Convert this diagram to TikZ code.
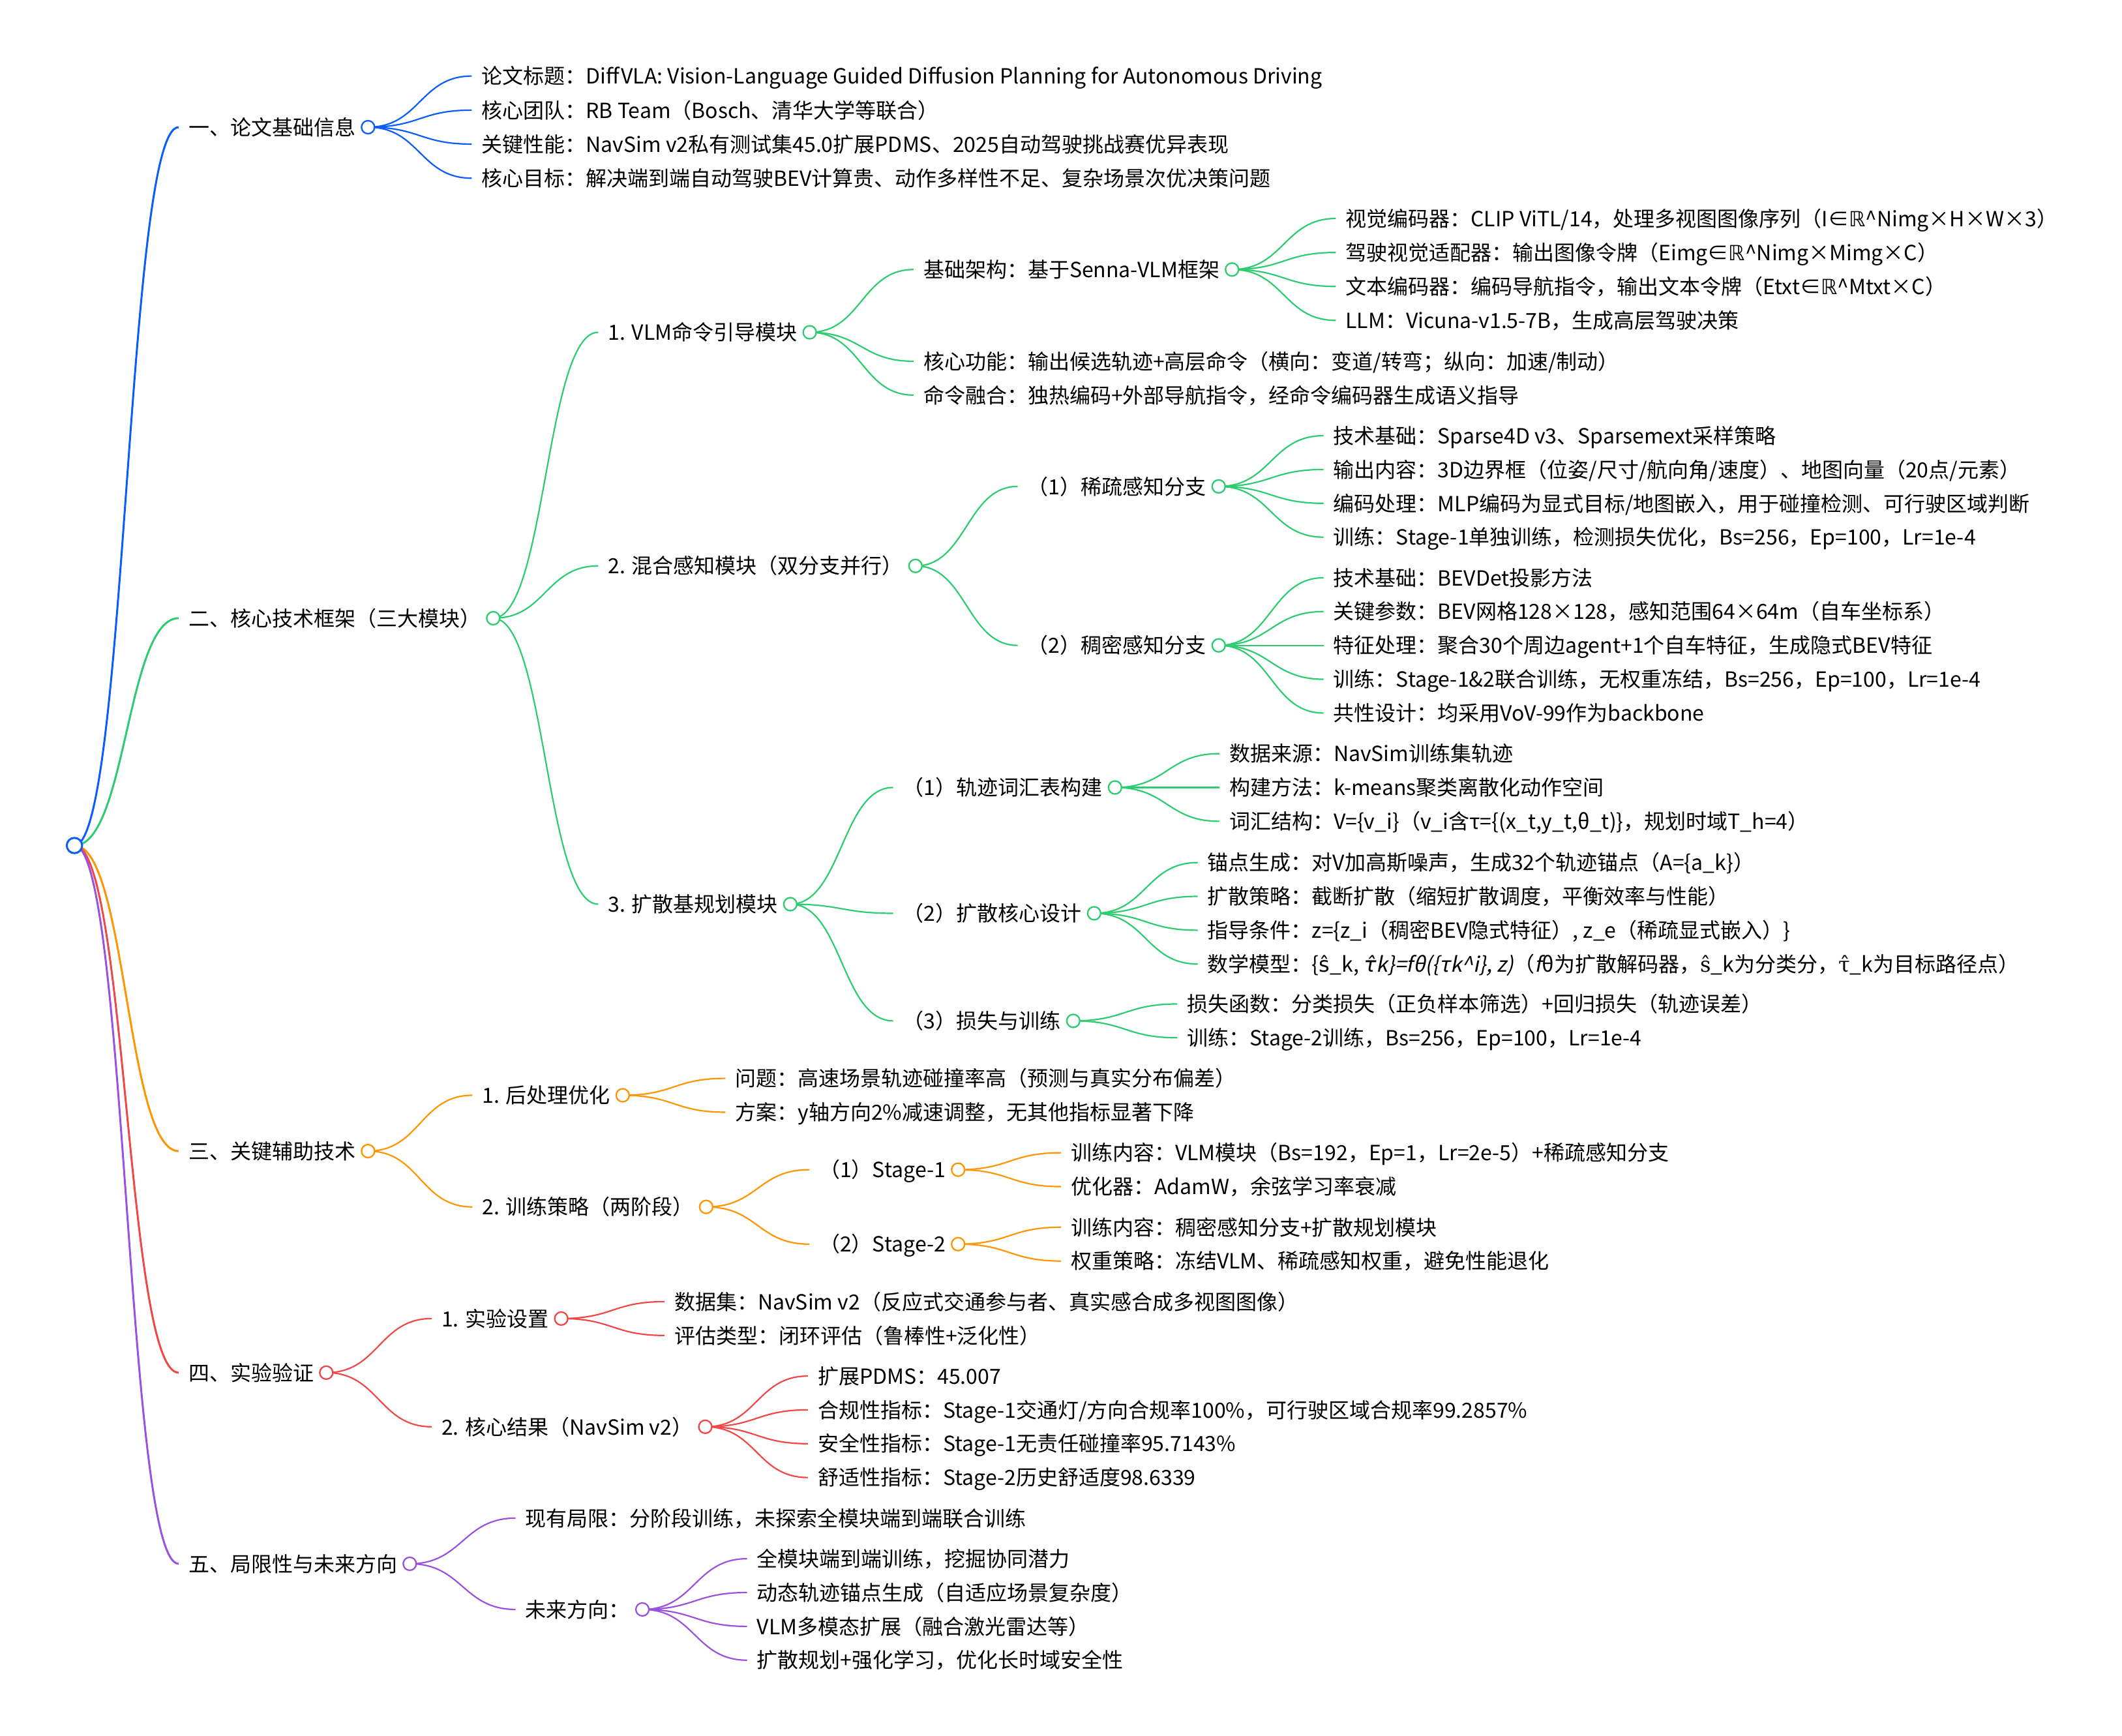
\documentclass[tikz,border=0pt]{standalone}
\usepackage{fontspec}
\setmainfont{Noto Sans CJK SC}[AutoFakeSlant=0.2]
\newfontfamily\dvs{DejaVu Sans}
\newfontfamily\dvr{DejaVu Serif}
\usetikzlibrary{calc}
\pgfdeclarelayer{back}
\pgfdeclarelayer{bg}
\pgfsetlayers{back,bg,main}
\definecolor{cb}{HTML}{0A5CFF}
\definecolor{cg}{HTML}{2ECC71}
\definecolor{co}{HTML}{FF9500}
\definecolor{cr}{HTML}{F04747}
\definecolor{cp}{HTML}{9B51E0}
\tikzset{
  txt/.style={anchor=west, inner xsep=15pt, inner ysep=0pt, text height=28.2pt, text depth=3.8pt, font=\fontsize{32}{38}\selectfont, text=black},
  dot/.style={circle, draw=#1, fill=white, inner sep=0pt, minimum size=20pt, line width=2.3pt},
  rootdot/.style={circle, draw=#1, fill=white, inner sep=0pt, minimum size=23.5pt, line width=3pt},
}
\newcommand\tn[4]{\node[txt] (#1) at (#2,#3) {#4};}
\newcommand\dt[2]{\node[dot=#2] (#1c) at ($(#1.east)+(4pt,0pt)$) {};}
\newcommand\lk[4][]{\draw[line width=2.2pt,draw=#2,#1] let \p1=(#3.center), \p2=(#4.west) in (\p1) .. controls ({(\x1+\x2)/2},\y1) and ({(\x1+\x2)/2},\y2) .. (\p2);}
\begin{document}
\begin{tikzpicture}[x=2.0753pt,y=-2.0748pt]
\begin{pgfonlayer}{back}
\fill[white] (0,0) rectangle (1568,1283);
\end{pgfonlayer}
\useasboundingbox (0,0) rectangle (1568,1283);
\node[rootdot=cb] (R) at (55,624.9) {};
% ---------- blue
\tn{A}{132}{94}{一、论文基础信息}
\tn{A1}{348.6}{56.2}{论文标题：DiffVLA: Vision-Language Guided Diffusion Planning for Autonomous Driving}
\tn{A2}{348.6}{81.4}{核心团队：RB Team（Bosch、清华大学等联合）}
\tn{A3}{348.6}{106.5}{关键性能：NavSim v2私有测试集45.0扩展PDMS、2025自动驾驶挑战赛优异表现}
\tn{A4}{348.6}{131.7}{核心目标：解决端到端自动驾驶BEV计算贵、动作多样性不足、复杂场景次优决策问题}
% ---------- green
\tn{B}{132}{456.9}{二、核心技术框架（三大模块）}
\tn{B1}{442}{245.6}{1. VLM命令引导模块}
\tn{B11}{675}{199.2}{基础架构：基于Senna-VLM框架}
\tn{B111}{987}{161.5}{视觉编码器：CLIP ViTL/14，处理多视图图像序列（I∈{\dvs ℝ}\^{}Nimg×H×W×3）}
\tn{B112}{987}{186.6}{驾驶视觉适配器：输出图像令牌（Eimg∈{\dvs ℝ}\^{}Nimg×Mimg×C）}
\tn{B113}{987}{211.7}{文本编码器：编码导航指令，输出文本令牌（Etxt∈{\dvs ℝ}\^{}Mtxt×C）}
\tn{B114}{987}{236.8}{LLM：Vicuna-v1.5-7B，生成高层驾驶决策}
\tn{B12}{675}{267}{核心功能：输出候选轨迹+高层命令（横向：变道/转弯；纵向：加速/制动）}
\tn{B13}{675}{292}{命令融合：独热编码+外部导航指令，经命令编码器生成语义指导}
\tn{B2}{442}{418.25}{2. 混合感知模块（双分支并行）}
\tn{B21}{752}{359.5}{（1）稀疏感知分支}
\tn{B211}{978}{322}{技术基础：Sparse4D v3、Sparsemext采样策略}
\tn{B212}{978}{347}{输出内容：3D边界框（位姿/尺寸/航向角/速度）、地图向量（20点/元素）}
\tn{B213}{978}{372}{编码处理：MLP编码为显式目标/地图嵌入，用于碰撞检测、可行驶区域判断}
\tn{B214}{978}{397}{训练：Stage-1单独训练，检测损失优化，Bs=256，Ep=100，Lr=1e-4}
\tn{B22}{752}{477}{（2）稠密感知分支}
\tn{B221}{978}{427}{技术基础：BEVDet投影方法}
\tn{B222}{978}{452}{关键参数：BEV网格128×128，感知范围64×64m（自车坐标系）}
\tn{B223}{978}{477}{特征处理：聚合30个周边agent+1个自车特征，生成隐式BEV特征}
\tn{B224}{978}{502}{训练：Stage-1\&2联合训练，无权重冻结，Bs=256，Ep=100，Lr=1e-4}
\tn{B225}{978}{527}{共性设计：均采用VoV-99作为backbone}
\tn{B3}{442}{668.25}{3. 扩散基规划模块}
\tn{B31}{660}{582}{（1）轨迹词汇表构建}
\tn{B311}{901}{557}{数据来源：NavSim训练集轨迹}
\tn{B312}{901}{582}{构建方法：k-means聚类离散化动作空间}
\tn{B313}{901}{607}{词汇结构：V=\{v\_i\}（v\_i含τ=\{(x\_t,y\_t,θ\_t)\}，规划时域T\_h=4）}
\tn{B32}{660}{675}{（2）扩散核心设计}
\tn{B321}{885}{637.5}{锚点生成：对V加高斯噪声，生成32个轨迹锚点（A=\{a\_k\}）}
\tn{B322}{885}{662.5}{扩散策略：截断扩散（缩短扩散调度，平衡效率与性能）}
\tn{B323}{885}{687.5}{指导条件：z=\{z\_i（稠密BEV隐式特征）, z\_e（稀疏显式嵌入）\}}
\tn{B324}{885}{712.5}{数学模型：\{{\dvs ŝ}\_k, \textit{{\dvs τ̂}k\}=fθ(\{τk\^{}i\}, z)}（\textit{f}θ为扩散解码器，{\dvr ŝ}\_k为分类分，{\dvr τ̂}\_k为目标路径点）}
\tn{B33}{660}{754.5}{（3）损失与训练}
\tn{B331}{870}{742}{损失函数：分类损失（正负样本筛选）+回归损失（轨迹误差）}
\tn{B332}{870}{767}{训练：Stage-2训练，Bs=256，Ep=100，Lr=1e-4}
% ---------- orange
\tn{C}{132}{850.75}{三、关键辅助技术}
\tn{C1}{349}{809.5}{1. 后处理优化}
\tn{C11}{536}{797}{问题：高速场景轨迹碰撞率高（预测与真实分布偏差）}
\tn{C12}{536}{822}{方案：y轴方向2\%减速调整，无其他指标显著下降}
\tn{C2}{349}{892}{2. 训练策略（两阶段）}
\tn{C21}{598}{864.5}{（1）Stage-1}
\tn{C211}{784}{852}{训练内容：VLM模块（Bs=192，Ep=1，Lr=2e-5）+稀疏感知分支}
\tn{C212}{784}{877}{优化器：AdamW，余弦学习率衰减}
\tn{C22}{598}{919.5}{（2）Stage-2}
\tn{C221}{784}{907}{训练内容：稠密感知分支+扩散规划模块}
\tn{C222}{784}{932}{权重策略：冻结VLM、稀疏感知权重，避免性能退化}
% ---------- red
\tn{D}{132}{1014.5}{四、实验验证}
\tn{D1}{319}{974.5}{1. 实验设置}
\tn{D11}{491}{962}{数据集：NavSim v2（反应式交通参与者、真实感合成多视图图像）}
\tn{D12}{491}{987}{评估类型：闭环评估（鲁棒性+泛化性）}
\tn{D2}{319}{1054.5}{2. 核心结果（NavSim v2）}
\tn{D21}{597}{1017}{扩展PDMS：45.007}
\tn{D22}{597}{1042}{合规性指标：Stage-1交通灯/方向合规率100\%，可行驶区域合规率99.2857\%}
\tn{D23}{597}{1067}{安全性指标：Stage-1无责任碰撞率95.7143\%}
\tn{D24}{597}{1092}{舒适性指标：Stage-2历史舒适度98.6339}
% ---------- purple
\tn{E}{132}{1155.75}{五、局限性与未来方向}
\tn{E1}{381}{1122}{现有局限：分阶段训练，未探索全模块端到端联合训练}
\tn{E2}{381}{1189.5}{未来方向：}
\tn{E21}{552}{1152}{全模块端到端训练，挖掘协同潜力}
\tn{E22}{552}{1177}{动态轨迹锚点生成（自适应场景复杂度）}
\tn{E23}{552}{1202}{VLM多模态扩展（融合激光雷达等）}
\tn{E24}{552}{1227}{扩散规划+强化学习，优化长时域安全性}
% ---------- dots
\dt{A}{cb}
\dt{B}{cg} \dt{B1}{cg} \dt{B11}{cg} \dt{B2}{cg} \dt{B21}{cg} \dt{B22}{cg}
\dt{B3}{cg} \dt{B31}{cg} \dt{B32}{cg} \dt{B33}{cg}
\dt{C}{co} \dt{C1}{co} \dt{C2}{co} \dt{C21}{co} \dt{C22}{co}
\dt{D}{cr} \dt{D1}{cr} \dt{D2}{cr}
\dt{E}{cp} \dt{E2}{cp}
% ---------- links
\begin{pgfonlayer}{bg}
\lk[line width=3pt]{cb}{R}{A}
\lk[line width=3pt]{cg}{R}{B}
\lk[line width=3pt]{co}{R}{C}
\lk[line width=3pt]{cr}{R}{D}
\lk[line width=3pt]{cp}{R}{E}
\foreach \k in {A1,A2,A3,A4} {\lk{cb}{Ac}{\k}}
\foreach \k in {B1,B2,B3} {\lk{cg}{Bc}{\k}}
\foreach \k in {B11,B12,B13} {\lk{cg}{B1c}{\k}}
\foreach \k in {B111,B112,B113,B114} {\lk{cg}{B11c}{\k}}
\foreach \k in {B21,B22} {\lk{cg}{B2c}{\k}}
\foreach \k in {B211,B212,B213,B214} {\lk{cg}{B21c}{\k}}
\foreach \k in {B221,B222,B223,B224,B225} {\lk{cg}{B22c}{\k}}
\foreach \k in {B31,B32,B33} {\lk{cg}{B3c}{\k}}
\foreach \k in {B311,B312,B313} {\lk{cg}{B31c}{\k}}
\foreach \k in {B321,B322,B323,B324} {\lk{cg}{B32c}{\k}}
\foreach \k in {B331,B332} {\lk{cg}{B33c}{\k}}
\foreach \k in {C1,C2} {\lk{co}{Cc}{\k}}
\foreach \k in {C11,C12} {\lk{co}{C1c}{\k}}
\foreach \k in {C21,C22} {\lk{co}{C2c}{\k}}
\foreach \k in {C211,C212} {\lk{co}{C21c}{\k}}
\foreach \k in {C221,C222} {\lk{co}{C22c}{\k}}
\foreach \k in {D1,D2} {\lk{cr}{Dc}{\k}}
\foreach \k in {D11,D12} {\lk{cr}{D1c}{\k}}
\foreach \k in {D21,D22,D23,D24} {\lk{cr}{D2c}{\k}}
\foreach \k in {E1,E2} {\lk{cp}{Ec}{\k}}
\foreach \k in {E21,E22,E23,E24} {\lk{cp}{E2c}{\k}}
\end{pgfonlayer}
\end{tikzpicture}
\end{document}
